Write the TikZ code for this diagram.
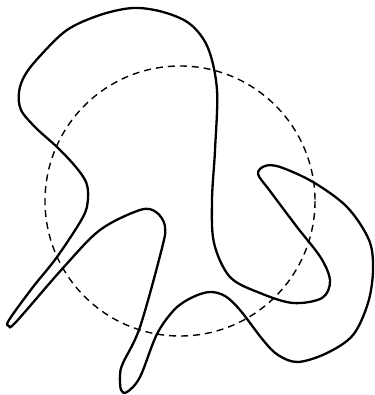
\documentclass[tikz,border=0pt]{standalone}
\begin{document}
\begin{tikzpicture}[x=1pt,y=-1pt,
  curve/.style={line width=2.3pt,line join=round},
  circ/.style={line width=1.4pt,dash pattern=on 7pt off 5pt}]
\useasboundingbox (0,0) rectangle (374,395);
\draw[circ] (180,201) circle[radius=135];
\draw[curve] plot[smooth cycle,tension=0.55] coordinates {
(133,8) (163,12) (190,24) (208,48) (217,90) (215,150) (212,200) (214,243) (230,277)
(260,293) (293,303) (322,298) (330,281) (321,258) (297,227) (270,191)
(258,174) (265,166) (280,167) (313,182) (347,207) (369,240) (373,270)
(368,303) (353,335) (327,353) (298,362) (278,355) (263,340) (240,310)
(225,296) (210,292) (193,297) (175,309) (157,334) (140,377) (127,392)
(121,390) (120,375) (123,363) (140,327) (162,248) (165,226) (156,212)
(140,210) (100,230) (63,268) (16,322) (9,326) (9,320) (33,287) (57,257)
(83,217) (88,198) (86,182) (75,166) (57,147) (36,128) (21,110) (19,92)
(25,75) (40,56) (67,30) (100,15)
};
\end{tikzpicture}
\end{document}
